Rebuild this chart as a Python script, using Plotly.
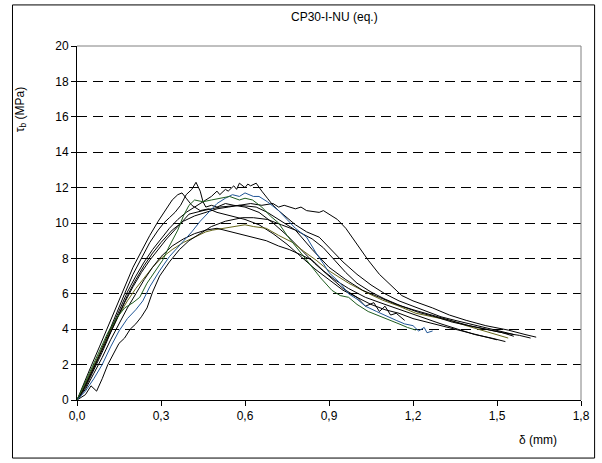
import plotly.graph_objects as go

# ---- data (delta in mm, tau_b in MPa) ----
c1_x = [0, 0.02, 0.05, 0.08, 0.11, 0.14, 0.17, 0.2, 0.23, 0.26, 0.29, 0.31, 0.33, 0.35, 0.37, 0.39, 0.41, 0.425, 0.44, 0.45, 0.46, 0.48, 0.5, 0.53, 0.56, 0.6, 0.65, 0.7, 0.75, 0.8, 0.85, 0.9, 0.95, 1.0, 1.03, 1.06, 1.08, 1.1, 1.12, 1.14, 1.17]
c1_y = [0, 0.6, 1.6, 2.6, 3.7, 4.9, 6.0, 7.1, 8.0, 8.9, 9.6, 10.0, 10.3, 10.6, 11.0, 11.6, 11.9, 12.3, 11.8, 11.2, 10.9, 11.0, 10.9, 11.1, 11.0, 10.9, 10.6, 10.0, 9.3, 8.5, 7.7, 7.0, 6.3, 5.8, 5.3, 5.5, 5.0, 5.3, 4.8, 4.9, 4.5]

c2_x = [0, 0.02, 0.05, 0.08, 0.11, 0.14, 0.17, 0.2, 0.23, 0.26, 0.29, 0.32, 0.34, 0.36, 0.375, 0.39, 0.41, 0.44, 0.47, 0.5, 0.55, 0.6, 0.65, 0.7, 0.75, 0.8, 0.85, 0.9, 0.95, 1.0, 1.05, 1.1, 1.15, 1.2, 1.25, 1.3, 1.35, 1.4, 1.45, 1.5]
c2_y = [0, 0.8, 1.9, 3.0, 4.1, 5.3, 6.4, 7.5, 8.4, 9.3, 10.1, 10.8, 11.3, 11.6, 11.7, 11.4, 11.0, 10.7, 10.8, 10.6, 10.4, 10.2, 9.9, 9.4, 8.8, 8.1, 7.4, 6.8, 6.2, 5.8, 5.4, 5.1, 4.9, 4.6, 4.4, 4.2, 4.0, 3.8, 3.6, 3.4]

c3_x = [0, 0.03, 0.06, 0.09, 0.12, 0.15, 0.18, 0.21, 0.24, 0.27, 0.3, 0.33, 0.36, 0.39, 0.42, 0.45, 0.48, 0.5, 0.51, 0.53, 0.54, 0.56, 0.57, 0.58, 0.6, 0.61, 0.62, 0.64, 0.65, 0.66, 0.68, 0.7, 0.72, 0.75, 0.78, 0.8, 0.82, 0.865, 0.9, 0.95, 1.0, 1.05, 1.1, 1.15, 1.2, 1.25, 1.3, 1.35, 1.4, 1.45, 1.5, 1.56]
c3_y = [0, 0.8, 1.8, 2.9, 4.0, 5.1, 6.1, 7.0, 7.8, 8.5, 9.1, 9.7, 10.2, 10.6, 10.9, 11.2, 11.5, 11.8, 11.6, 11.9, 11.8, 12.1, 11.9, 12.25, 12.0, 12.2, 12.1, 12.25, 12.0, 11.8, 11.4, 11.0, 10.7, 10.3, 9.9, 9.7, 9.5, 9.2, 8.6, 7.8, 7.1, 6.5, 6.0, 5.6, 5.3, 5.0, 4.7, 4.5, 4.3, 4.1, 3.9, 3.7]

c4_x = [0, 0.03, 0.06, 0.09, 0.12, 0.15, 0.18, 0.21, 0.24, 0.27, 0.3, 0.34, 0.38, 0.42, 0.46, 0.5, 0.54, 0.58, 0.62, 0.66, 0.7, 0.72, 0.74, 0.78, 0.8, 0.82, 0.865, 0.88, 0.9, 0.93, 0.96, 1.0, 1.04, 1.08, 1.12, 1.16, 1.2, 1.27, 1.33, 1.39, 1.46, 1.54, 1.6, 1.64]
c4_y = [0, 0.7, 1.7, 2.7, 3.8, 4.9, 5.9, 6.8, 7.6, 8.3, 8.9, 9.6, 10.1, 10.4, 10.6, 10.8, 10.9, 11.0, 11.1, 11.0, 11.1, 10.9, 11.0, 10.8, 10.9, 10.7, 10.6, 10.7, 10.5, 10.2, 9.7, 8.8, 7.9, 7.1, 6.5, 5.9, 5.6, 5.2, 4.8, 4.5, 4.2, 3.95, 3.7, 3.55]

c5_x = [0, 0.03, 0.06, 0.09, 0.12, 0.15, 0.18, 0.21, 0.235, 0.26, 0.295, 0.33, 0.37, 0.41, 0.44, 0.47, 0.5, 0.53, 0.555, 0.58, 0.6, 0.63, 0.65, 0.68, 0.72, 0.75, 0.78, 0.82, 0.854, 0.88, 0.9, 0.94, 0.97, 1.0, 1.03, 1.07, 1.11, 1.14, 1.17, 1.2, 1.22, 1.24, 1.25, 1.27]
c5_y = [0, 0.5, 1.2, 2.0, 3.0, 3.9, 4.6, 5.1, 5.6, 6.4, 7.3, 8.1, 8.8, 9.5, 10.1, 10.6, 11.1, 11.4, 11.6, 11.5, 11.7, 11.5, 11.5, 11.2, 10.7, 10.2, 9.7, 9.2, 8.3, 7.7, 7.2, 6.6, 6.0, 5.7, 5.3, 5.0, 4.7, 4.5, 4.3, 4.2, 3.9, 4.1, 3.8, 3.9]

c6_x = [0, 0.02, 0.05, 0.08, 0.11, 0.14, 0.17, 0.2, 0.224, 0.25, 0.28, 0.306, 0.33, 0.36, 0.38, 0.4, 0.42, 0.45, 0.48, 0.51, 0.545, 0.58, 0.6, 0.627, 0.66, 0.69, 0.72, 0.75, 0.79, 0.83, 0.87, 0.91, 0.94, 0.97, 1.0, 1.04, 1.09, 1.15, 1.18, 1.21]
c6_y = [0, 0.7, 1.8, 2.8, 3.8, 4.6, 5.2, 5.5, 5.8, 6.6, 7.3, 7.9, 8.7, 9.6, 10.4, 11.0, 11.3, 11.2, 11.3, 11.4, 11.5, 11.3, 11.4, 11.3, 10.9, 10.4, 10.0, 9.3, 8.5, 7.7, 6.9, 6.2, 5.9, 5.8, 5.4, 5.0, 4.7, 4.3, 4.1, 3.95]

c7_x = [0, 0.03, 0.06, 0.09, 0.12, 0.15, 0.18, 0.21, 0.24, 0.27, 0.3, 0.34, 0.38, 0.42, 0.46, 0.485, 0.52, 0.56, 0.6, 0.63, 0.676, 0.72, 0.77, 0.81, 0.854, 0.9, 0.97, 1.03, 1.09, 1.15, 1.21, 1.27, 1.33, 1.39, 1.445, 1.5, 1.54]
c7_y = [0, 0.9, 1.9, 2.9, 3.9, 4.8, 5.6, 6.3, 6.9, 7.5, 8.0, 8.5, 8.9, 9.2, 9.5, 9.6, 9.7, 9.8, 9.9, 9.8, 9.7, 9.3, 8.9, 8.4, 7.9, 7.3, 6.6, 6.1, 5.65, 5.3, 4.9, 4.7, 4.5, 4.2, 3.95, 3.7, 3.5]

c8_x = [0, 0.03, 0.06, 0.09, 0.12, 0.15, 0.18, 0.21, 0.24, 0.27, 0.3, 0.34, 0.38, 0.42, 0.46, 0.5, 0.55, 0.6, 0.676, 0.72, 0.758, 0.8, 0.84, 0.88, 0.92, 0.97, 1.03, 1.1, 1.17, 1.24, 1.3, 1.36, 1.42, 1.48, 1.53]
c8_y = [0, 0.6, 1.5, 2.4, 3.4, 4.3, 5.2, 6.0, 6.8, 7.5, 8.1, 8.7, 9.1, 9.4, 9.6, 9.7, 9.5, 9.3, 9.0, 8.7, 8.5, 8.2, 7.9, 7.3, 6.8, 6.3, 5.8, 5.4, 5.0, 4.6, 4.3, 4.0, 3.7, 3.5, 3.3]

c9_x = [0, 0.03, 0.05, 0.07, 0.09, 0.11, 0.13, 0.15, 0.17, 0.19, 0.21, 0.23, 0.25, 0.27, 0.295, 0.33, 0.366, 0.4, 0.44, 0.48, 0.53, 0.59, 0.63, 0.68, 0.73, 0.78, 0.84, 0.9, 0.96, 1.02, 1.08, 1.14, 1.2, 1.27, 1.34, 1.4, 1.46, 1.52, 1.56]
c9_y = [0, 0.3, 0.8, 0.5, 1.2, 2.0, 2.6, 3.2, 3.5, 4.0, 4.3, 4.7, 5.2, 6.1, 7.0, 7.8, 8.5, 9.0, 9.4, 9.8, 10.1, 10.3, 10.3, 10.2, 9.9, 9.6, 8.5, 7.5, 6.8, 6.2, 5.8, 5.4, 5.1, 4.8, 4.5, 4.2, 4.0, 3.8, 3.6]

c10_x = [0, 0.02, 0.05, 0.08, 0.11, 0.14, 0.17, 0.2, 0.23, 0.26, 0.29, 0.32, 0.36, 0.4, 0.45, 0.51, 0.58, 0.64, 0.68, 0.72, 0.78, 0.84, 0.88, 0.92, 0.96, 1.0, 1.05, 1.1, 1.16, 1.22, 1.28, 1.34, 1.4, 1.46, 1.52, 1.58, 1.62]
c10_y = [0, 0.5, 1.5, 2.5, 3.5, 4.5, 5.5, 6.4, 7.2, 7.9, 8.5, 9.1, 9.8, 10.5, 10.7, 10.9, 11.0, 10.9, 10.6, 10.2, 9.6, 9.1, 8.6, 7.9, 7.2, 6.6, 6.1, 5.7, 5.3, 4.95, 4.7, 4.4, 4.2, 4.0, 3.8, 3.65, 3.5]

series = [
    (c1_x, c1_y, "#000000"),
    (c2_x, c2_y, "#000000"),
    (c3_x, c3_y, "#000000"),
    (c4_x, c4_y, "#000000"),
    (c7_x, c7_y, "#66661a"),
    (c8_x, c8_y, "#000000"),
    (c9_x, c9_y, "#000000"),
    (c10_x, c10_y, "#000000"),
    (c5_x, c5_y, "#1f5596"),
    (c6_x, c6_y, "#1e5c1e"),
]

x_ticks = [0, 0.3, 0.6, 0.9, 1.2, 1.5, 1.8]
x_labels = ["0,0", "0,3", "0,6", "0,9", "1,2", "1,5", "1,8"]
y_ticks = [0, 2, 4, 6, 8, 10, 12, 14, 16, 18, 20]
y_grid = [2, 4, 6, 8, 10, 12, 14, 16, 18]

FONT = "Liberation Sans, Arial, sans-serif"

fig = go.Figure()
# invisible trace to activate the grid axis (drawn first, below the curves)
fig.add_trace(go.Scatter(x=[0], y=[0], yaxis="y2", mode="markers",
                         marker=dict(opacity=0), showlegend=False, hoverinfo="skip"))
for xs, ys, col in series:
    fig.add_trace(go.Scatter(x=xs, y=ys, mode="lines",
                             line=dict(color=col, width=1), showlegend=False,
                             hoverinfo="skip"))

fig.update_layout(
    width=602, height=463,
    margin=dict(l=77, r=19, t=46, b=63),
    paper_bgcolor="white", plot_bgcolor="white",
    font=dict(family=FONT, size=12, color="black"),
    xaxis=dict(range=[0, 1.8], tickvals=x_ticks, ticktext=x_labels,
               showgrid=False, zeroline=False, showline=True,
               linecolor="black", linewidth=1, ticks="outside",
               ticklen=5, tickcolor="black", tickfont=dict(size=12)),
    yaxis=dict(range=[0, 20], tickvals=y_ticks, showgrid=False,
               zeroline=False, showline=True, linecolor="black",
               linewidth=1, ticks="outside", ticklen=5, tickcolor="black",
               tickfont=dict(size=12)),
    yaxis2=dict(range=[0, 20], overlaying="y", tickvals=y_grid,
                showticklabels=False, showgrid=True, gridcolor="black",
                gridwidth=1, griddash="10px,6px", zeroline=False,
                showline=False, ticks=""),
    shapes=[
        dict(type="line", xref="paper", yref="paper", x0=0, x1=1, y0=1, y1=1,
             line=dict(color="#808080", width=1)),
        dict(type="line", xref="paper", yref="paper", x0=1, x1=1, y0=0, y1=1,
             line=dict(color="#808080", width=1)),
        dict(type="rect", xref="paper", yref="paper",
             x0=-0.128, x1=1.027, y0=-0.164, y1=1.116,
             line=dict(color="black", width=1)),
    ],
    annotations=[
        dict(text="CP30-I-NU (eq.)", xref="paper", yref="paper",
             x=0.51, y=1.081, showarrow=False, font=dict(size=12),
             xanchor="center", yanchor="middle"),
        dict(text="δ (mm)", xref="paper", yref="paper",
             x=0.915, y=-0.113, showarrow=False, font=dict(size=12),
             xanchor="center", yanchor="middle"),
        dict(text="τ<sub>b</sub> (MPa)", xref="paper", yref="paper",
             x=-0.112, y=0.82, showarrow=False, font=dict(size=12),
             textangle=-90, xanchor="center", yanchor="middle"),
    ],
)

fig.write_html("out.html")
